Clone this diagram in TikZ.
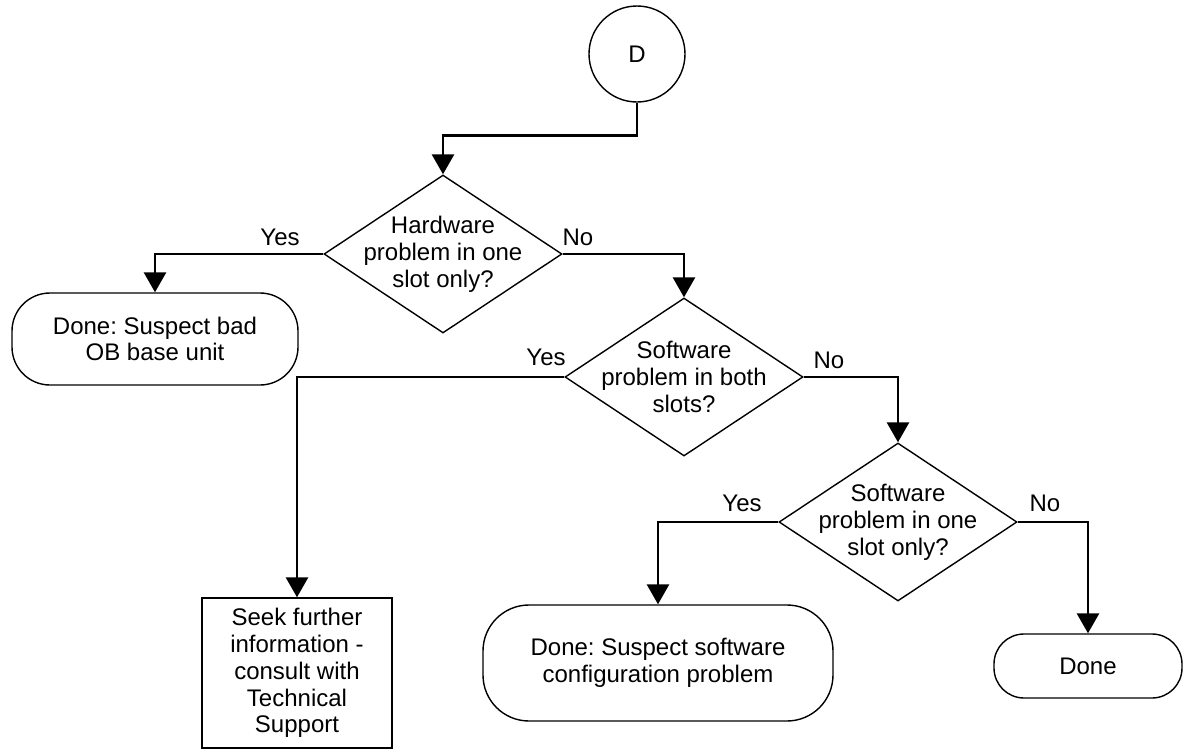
\documentclass[tikz,border=0pt]{standalone}
\usepackage{fontspec}
\setmainfont{Liberation Sans}
\frenchspacing
\usetikzlibrary{shapes.geometric, arrows.meta, positioning}
\tikzstyle{arrow} = [line width=1.4pt, -{Triangle[width=11pt,length=10pt]}]
\tikzset{
  txt/.style      = {font=\fontsize{12}{13.4}\selectfont, align=center, inner sep=0pt},
  decision/.style = {draw, diamond, minimum width=119pt, minimum height=79pt,
                     inner sep=0pt, line width=0.7pt},
  terminal/.style = {draw, rectangle, txt, line width=0.7pt},
  process/.style  = {draw, rectangle, txt, line width=0.7pt},
  connector/.style= {draw, circle, minimum size=48pt, inner sep=0pt, line width=0.7pt, txt}
}

\begin{document}
\begin{tikzpicture}[x=0.5pt, y=-0.5pt]
\useasboundingbox (0,0) rectangle (1184,750);

% Entry point
\node[connector] (d) at (637,54) {D};

% Decisions
\node[decision, label={[txt]center:Hardware\\problem in one\\slot only?}] (hw) at (443,254) {};
\node[decision, label={[txt]center:Software\\problem in both\\slots?}] (swboth) at (684,377) {};
\node[decision, label={[txt]center:Software\\problem in one\\slot only?}] (swone) at (898,522) {};

% Outcomes
\node[terminal, rounded corners=19pt, minimum width=143pt, minimum height=46pt] (badunit) at (155,339) {Done: Suspect bad\\OB base unit};
\node[process, minimum width=95pt, minimum height=75pt] (seek) at (297,673) {Seek further\\information -\\consult with\\Technical\\Support};
\node[terminal, rounded corners=23pt, minimum width=175pt, minimum height=58pt] (config) at (658,663) {Done: Suspect software\\configuration problem};
\node[terminal, rounded corners=15pt, minimum width=94pt, minimum height=32pt] (done) at (1088,666) {Done};

% Connectors
\draw[arrow] (d.south) -- ++(0,33) -| (hw.north);
\draw[arrow] (hw.west) -| (badunit.north);
\draw[arrow] (hw.east) -| (swboth.north);
\draw[arrow] (swboth.west) -| (seek.north);
\draw[arrow] (swboth.east) -| (swone.north);
\draw[arrow] (swone.west) -| (config.north);
\draw[arrow] (swone.east) -| (done.north);

% Branch labels
\node[txt] (yes1) at (280,237) {Yes};
\node[txt] (no1) at (578,237) {No};
\node[txt] (yes2) at (546,357) {Yes};
\node[txt] (no2) at (829,360) {No};
\node[txt] (yes3) at (742,503) {Yes};
\node[txt] (no3) at (1045,503) {No};
\end{tikzpicture}
\end{document}
